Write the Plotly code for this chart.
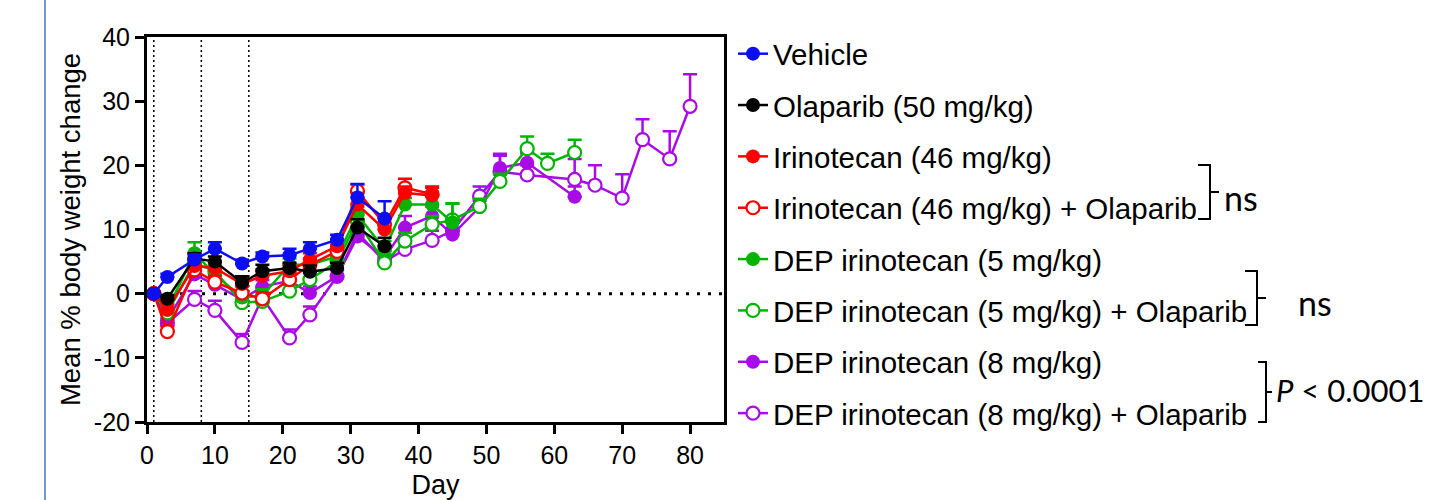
import plotly.graph_objects as go

# ---------------- data ----------------
days = [1, 3, 7, 10, 14, 17, 21, 24, 28, 31, 35, 38, 42, 45, 49, 52, 56, 59, 63, 66, 70, 73, 77, 80]

vehicle = [0.0, 2.6, 5.3, 7.0, 4.7, 5.8, 6.0, 7.0, 8.4, 15.0, 11.7]
vehicle_sem = [0.0, 0.5, 0.8, 1.0, 0.6, 0.6, 1.0, 1.0, 0.8, 2.1, 2.7]

olaparib = [0.0, -0.8, 5.5, 5.0, 1.7, 3.5, 4.0, 3.4, 4.0, 10.3, 7.4]
olaparib_sem = [0.0, 0.6, 0.8, 0.8, 1.0, 1.0, 0.8, 1.0, 0.8, 1.3, 1.3]

irino = [0.0, -2.5, 4.3, 4.0, 1.5, 2.8, 3.5, 5.3, 7.4, 13.9, 10.0, 15.7, 15.3]
irino_sem = [0.0, 0.8, 1.0, 0.8, 1.0, 1.0, 1.0, 1.0, 1.0, 1.8, 1.8, 1.0, 1.2]

irino_ola = [0.0, -5.9, 3.7, 1.8, 0.1, -0.8, 2.2, 4.5, 6.6, 16.0, 10.8, 16.5, 15.5]
irino_ola_sem = [0.0, 0.8, 1.0, 1.0, 1.0, 1.0, 1.0, 1.0, 1.0, 1.0, 1.5, 1.4, 1.2]

dep5 = [0.0, -2.5, 6.3, 3.0, -0.6, -0.3, 4.5, 4.5, 5.8, 12.3, 6.9, 13.9, 13.9, 11.1]
dep5_sem = [0.0, 0.8, 1.7, 1.0, 1.0, 1.0, 1.0, 1.0, 1.0, 1.2, 1.3, 1.0, 1.3, 3.0]

dep5_ola = [0.0, -3.0, 4.8, 3.5, -1.4, -1.2, 0.4, 2.2, 5.0, 11.3, 4.8, 8.2, 10.8, 11.5, 13.6, 17.5, 22.6, 20.3, 22.0]
dep5_ola_sem = [0.0, 0.8, 1.0, 1.0, 1.0, 1.0, 1.0, 1.0, 1.0, 1.2, 1.3, 1.3, 1.3, 2.5, 1.2, 1.2, 1.9, 1.5, 2.0]

dep8 = [0.0, -4.1, 3.0, 1.4, -0.9, 1.1, 2.0, 0.1, 2.7, 8.9, 5.6, 10.3, 12.1, 9.2, 13.5, 19.6, 20.4, None, 15.1]
dep8_sem = [0.0, 0.8, 0.8, 1.0, 1.0, 1.0, 1.0, 1.0, 1.0, 1.0, 1.0, 1.8, 1.5, 1.0, 1.0, 2.2, 1.5, 0.0, 1.6]

dep8_ola = [0.0, -4.6, -0.9, -2.6, -7.6, -0.6, -6.9, -3.3, 2.7, 9.5, 5.0, 6.9, 8.3, 9.8, 15.2, 19.0, 18.5, None,
            17.8, 16.9, 14.9, 24.0, 21.0, 29.2]
dep8_ola_sem = [0.0, 0.8, 1.3, 1.5, 1.3, 1.5, 1.3, 1.3, 1.0, 1.0, 1.0, 1.5, 1.5, 1.5, 1.5, 2.5, 1.5, 0.0,
                3.2, 3.1, 3.7, 3.2, 4.3, 5.0]

names = ["Vehicle", "Olaparib (50 mg/kg)", "Irinotecan (46 mg/kg)", "Irinotecan (46 mg/kg) + Olaparib",
         "DEP irinotecan (5 mg/kg)", "DEP irinotecan (5 mg/kg) + Olaparib",
         "DEP irinotecan (8 mg/kg)", "DEP irinotecan (8 mg/kg) + Olaparib"]
values = [vehicle, olaparib, irino, irino_ola, dep5, dep5_ola, dep8, dep8_ola]
sems = [vehicle_sem, olaparib_sem, irino_sem, irino_ola_sem, dep5_sem, dep5_ola_sem, dep8_sem, dep8_ola_sem]
colors = ["#0D0DF2", "#000000", "#FF0000", "#FF0000", "#00B400", "#00B400", "#A80BE6", "#A80BE6"]
filled = [True, True, True, False, True, False, True, False]

vlines_days = [1, 8, 15]
x_ticks = [0, 10, 20, 30, 40, 50, 60, 70, 80]
y_ticks = [-20, -10, 0, 10, 20, 30, 40]
y_tick_labels = ["-20", "-10", "0", "10", "20", "30", "40"]

# ---------------- layout geometry ----------------
W, H = 1438, 500
L, R, T, B = 147, 724, 37, 422
pw, ph = R - L, B - T


def px(x):
    return (x - L) / pw


def py(y):
    return (B - y) / ph


fig = go.Figure()

# draw in reverse so Vehicle sits on top
for i in reversed(range(len(names))):
    n = len(values[i])
    col = colors[i]
    fig.add_trace(go.Scatter(
        x=days[:n], y=values[i], name=names[i], mode="lines+markers",
        connectgaps=True, legendrank=i + 1, legendgroup=f"g{i}",
        line=dict(color=col, width=2.5),
        marker=dict(symbol="circle", size=14 if filled[i] else 13,
                    color=col if filled[i] else "white",
                    line=dict(color=col, width=0 if filled[i] else 2.2)),
        error_y=dict(type="data", symmetric=False, array=sems[i], arrayminus=[0] * n,
                     width=7, thickness=2.5, color=col),
    ))

shapes = []
for d in vlines_days:
    shapes.append(dict(type="line", xref="x", yref="paper", x0=d, x1=d, y0=0, y1=1,
                       line=dict(color="black", width=1.5, dash="2px,3px"), layer="below"))
shapes.append(dict(type="line", xref="paper", yref="y", x0=0, x1=1, y0=0, y1=0,
                   line=dict(color="black", width=3, dash="3px,8px"), layer="below"))
# left blue rule
shapes.append(dict(type="line", xref="paper", yref="paper", x0=px(45), x1=px(45), y0=py(0), y1=py(500),
                   line=dict(color="#4472C4", width=1.5)))


def bracket(x0, x1, y0, y1, xt):
    ym = (y0 + y1) / 2
    path = (f"M {px(x0)} {py(y0)} L {px(x1)} {py(y0)} L {px(x1)} {py(y1)} L {px(x0)} {py(y1)} "
            f"M {px(x1)} {py(ym)} L {px(xt)} {py(ym)}")
    return dict(type="path", xref="paper", yref="paper", path=path, line=dict(color="black", width=2))


shapes.append(bracket(1198, 1210, 165, 219, 1219))
shapes.append(bracket(1245, 1257, 271, 325, 1266))
shapes.append(bracket(1258, 1266, 362, 422, 1272))

annotations = [
    dict(text="ns", x=px(1222), y=py(197), xref="paper", yref="paper", xanchor="left", yanchor="middle",
         showarrow=False, font=dict(family="Lato, Open Sans, sans-serif", size=34, color="black")),
    dict(text="ns", x=px(1296), y=py(302), xref="paper", yref="paper", xanchor="left", yanchor="middle",
         showarrow=False, font=dict(family="Lato, Open Sans, sans-serif", size=34, color="black")),
    dict(text="<i>P</i> < 0.0001", x=px(1274), y=py(390), xref="paper", yref="paper", xanchor="left",
         yanchor="middle", showarrow=False,
         font=dict(family="Lato, Open Sans, sans-serif", size=31, color="black")),
]

axis_font = dict(family="Liberation Sans, Arial, sans-serif", size=25, color="black")
fig.update_layout(
    width=W, height=H, margin=dict(l=L, r=W - R, t=T, b=H - B, pad=0, autoexpand=False),
    paper_bgcolor="white", plot_bgcolor="white",
    font=dict(family="Liberation Sans, Arial, sans-serif", color="black"),
    xaxis=dict(range=[0, 85], tickvals=x_ticks, showgrid=False, zeroline=False, automargin=False,
               showline=True, linecolor="black", linewidth=3, mirror=True,
               ticks="outside", ticklen=9, tickwidth=3, tickcolor="black", tickfont=axis_font,
               title=dict(text="Day", font=dict(family="Liberation Sans, Arial, sans-serif", size=27),
                          standoff=11)),
    yaxis=dict(range=[-20, 40], tickvals=y_ticks, ticktext=y_tick_labels, showgrid=False, zeroline=False,
               automargin=False,
               showline=True, linecolor="black", linewidth=3, mirror=True,
               ticks="outside", ticklen=9, tickwidth=3, tickcolor="black", tickfont=axis_font,
               title=dict(text="Mean % body weight change",
                          font=dict(family="Liberation Sans, Arial, sans-serif", size=27.5), standoff=6)),
    legend=dict(x=px(733), y=py(28), xanchor="left", yanchor="top", tracegroupgap=10, maxheight=490,
                font=dict(family="Liberation Sans, Arial, sans-serif", size=29.5, color="black"),
                bgcolor="rgba(0,0,0,0)", itemwidth=30),
    shapes=shapes, annotations=annotations, showlegend=True,
)

fig.write_html("out.html")
